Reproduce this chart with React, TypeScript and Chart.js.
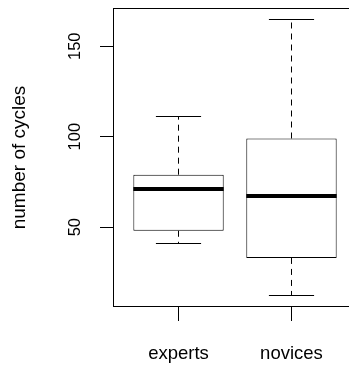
import { useEffect, useRef } from "react";
import { Chart, registerables } from "chart.js";

Chart.register(...registerables);

// Five-number summaries per group
const categories = ["experts", "novices"];
const whiskerLow = [41, 12];
const quartile1 = [48, 33];
const medians = [71, 67];
const quartile3 = [79, 99];
const whiskerHigh = [111, 165];
const yTickValues = [50, 100, 150];

const FONT = "'Liberation Sans', Arial, Helvetica, sans-serif";

// R-style 4% axis extension around the data range
const dataLo = Math.min(...whiskerLow);
const dataHi = Math.max(...whiskerHigh);
const ySpan = dataHi - dataLo;
const yMin = dataLo - 0.04 * ySpan;
const yMax = dataHi + 0.04 * ySpan;
const xMin = 0.5 - 0.04 * categories.length;
const xMax = categories.length + 0.5 + 0.04 * categories.length;

const crisp = (v: number) => Math.round(v - 0.5) + 0.5;

const boxWhiskers = {
  id: "boxWhiskers",
  afterDatasetsDraw(chart: any) {
    const { ctx } = chart;
    const x = chart.scales.x;
    const y = chart.scales.y;
    const meta = chart.getDatasetMeta(0);
    ctx.save();
    ctx.strokeStyle = "#000";
    categories.forEach((_, i) => {
      const bar = meta.data[i];
      const cx = crisp(x.getPixelForValue(i + 1));
      const half = bar.width / 2;
      const capHalf = bar.width / 4;

      // dashed whiskers from box edges out to the extremes
      ctx.lineWidth = 1;
      ctx.setLineDash([6, 5]);
      ctx.beginPath();
      ctx.moveTo(cx, y.getPixelForValue(quartile3[i]));
      ctx.lineTo(cx, y.getPixelForValue(whiskerHigh[i]));
      ctx.moveTo(cx, y.getPixelForValue(quartile1[i]));
      ctx.lineTo(cx, y.getPixelForValue(whiskerLow[i]));
      ctx.stroke();
      ctx.setLineDash([]);

      // whisker caps
      ctx.beginPath();
      const yh = crisp(y.getPixelForValue(whiskerHigh[i]));
      const yl = crisp(y.getPixelForValue(whiskerLow[i]));
      ctx.moveTo(cx - capHalf, yh);
      ctx.lineTo(cx + capHalf, yh);
      ctx.moveTo(cx - capHalf, yl);
      ctx.lineTo(cx + capHalf, yl);
      ctx.stroke();

      // median
      ctx.lineWidth = 4;
      ctx.beginPath();
      const ym = Math.round(y.getPixelForValue(medians[i]));
      ctx.moveTo(bar.x - half, ym);
      ctx.lineTo(bar.x + half, ym);
      ctx.stroke();
    });
    ctx.restore();
  },
  afterDraw(chart: any) {
    const { ctx, chartArea } = chart;
    const y = chart.scales.y;
    ctx.save();
    // plot frame
    ctx.strokeStyle = "#000";
    ctx.lineWidth = 1;
    ctx.strokeRect(
      chartArea.left + 0.5,
      chartArea.top + 0.5,
      chartArea.right - chartArea.left - 1,
      chartArea.bottom - chartArea.top - 1
    );
    // rotated y tick labels
    ctx.fillStyle = "#000";
    ctx.font = `16.5px ${FONT}`;
    ctx.textAlign = "center";
    ctx.textBaseline = "alphabetic";
    y.ticks.forEach((t: any) => {
      ctx.save();
      ctx.translate(80, y.getPixelForValue(t.value));
      ctx.rotate(-Math.PI / 2);
      ctx.fillText(String(t.value), 0, 0);
      ctx.restore();
    });
    ctx.restore();
  },
};

export default function App() {
  const canvasRef = useRef<HTMLCanvasElement | null>(null);

  useEffect(() => {
    // full-bleed page so the plot can run to the window edge
    const prevMargin = document.body.style.margin;
    document.body.style.margin = "0";
    if (!canvasRef.current) return;
    const chart = new Chart(canvasRef.current, {
      type: "bar",
      data: {
        datasets: [
          {
            data: categories.map((_, i) => ({ x: i + 1, y: [quartile1[i], quartile3[i]] })) as any,
            backgroundColor: "#ffffff",
            borderColor: "#000000",
            borderWidth: 1,
            borderSkipped: false,
            barPercentage: 0.8,
            categoryPercentage: 1,
          },
        ],
      },
      plugins: [boxWhiskers],
      options: {
        responsive: false,
        animation: false,
        events: [],
        layout: { padding: { top: 8, left: 0, right: 3, bottom: 0 } },
        plugins: { legend: { display: false }, tooltip: { enabled: false } },
        scales: {
          x: {
            type: "linear",
            min: xMin,
            max: xMax,
            offset: false,
            afterBuildTicks: (scale: any) => {
              scale.ticks = categories.map((_, i) => ({ value: i + 1 }));
            },
            afterFit: (scale: any) => {
              scale.height = 58;
            },
            ticks: {
              callback: (v: any) => categories[Math.round(Number(v)) - 1] ?? "",
              color: "#000",
              font: { family: FONT, size: 18.5 },
              padding: 22,
              maxRotation: 0,
              autoSkip: false,
            },
            grid: {
              display: true,
              offset: false,
              drawOnChartArea: false,
              drawTicks: true,
              tickLength: 14,
              color: "#000",
              lineWidth: 1,
            },
            border: { display: false },
          },
          y: {
            type: "linear",
            min: yMin,
            max: yMax,
            afterBuildTicks: (scale: any) => {
              scale.ticks = yTickValues.map((v) => ({ value: v }));
            },
            afterFit: (scale: any) => {
              scale.width = 113;
            },
            ticks: { display: false },
            grid: {
              display: true,
              drawOnChartArea: false,
              drawTicks: true,
              tickLength: 13,
              color: "#000",
              lineWidth: 1,
            },
            border: { display: false },
            title: {
              display: true,
              text: "number of cycles",
              color: "#000",
              font: { family: FONT, size: 19 },
              padding: { top: 8, bottom: 0 },
            },
          },
        },
      },
    });
    return () => {
      chart.destroy();
      document.body.style.margin = prevMargin;
    };
  }, []);

  return (
    <div style={{ width: 349, height: 365, overflow: "hidden", position: "relative", background: "#fff" }}>
      <canvas ref={canvasRef} width={360} height={365} style={{ display: "block" }} />
    </div>
  );
}
